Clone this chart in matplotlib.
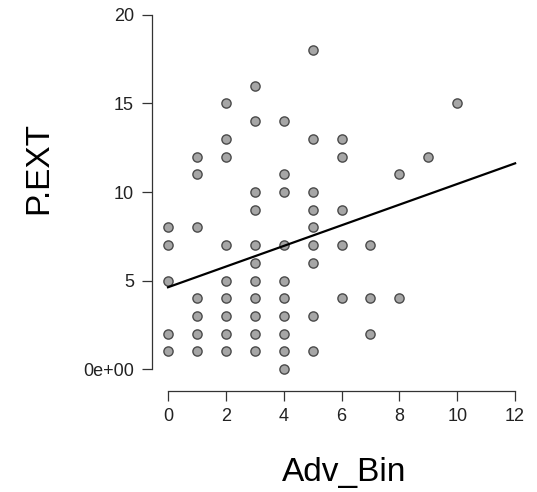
import matplotlib
matplotlib.use("Agg")
import matplotlib.pyplot as plt
import numpy as np

plt.rcParams['font.family'] = ['Liberation Sans', 'DejaVu Sans']

# P.EXT values observed at each Adv_Bin value
adv_bin = [0] * 5 + [1] * 7 + [2] * 9 + [3] * 11 + [4] * 10 + [5] * 9 + [6] * 5 + [7] * 3 + [8] * 2 + [9] + [10]
p_ext = [8, 7, 5, 2, 1,
         12, 11, 8, 4, 3, 2, 1,
         15, 13, 12, 7, 5, 4, 3, 2, 1,
         16, 14, 10, 9, 7, 6, 5, 4, 3, 2, 1,
         14, 11, 10, 7, 5, 4, 3, 2, 1, 0,
         18, 13, 10, 9, 8, 7, 6, 3, 1,
         13, 12, 9, 7, 4,
         7, 4, 2,
         11, 4,
         12,
         15]

# fitted line
line_x = [0, 12]
line_y = [4.62, 11.62]

x_ticks = [0, 2, 4, 6, 8, 10, 12]
y_ticks = [0, 5, 10, 15, 20]
y_tick_labels = ['0e+00', '5', '10', '15', '20']

fig = plt.figure(figsize=(5.37, 4.92), dpi=100)
ax = fig.add_axes([152/537, 1 - 391/492, 377/537, 390.2/492])

ax.scatter(adv_bin, p_ext, s=44, c='#a6a6a6', edgecolors='#4a4a4a', linewidths=1.0, zorder=3)
ax.plot(line_x, line_y, color='black', lw=1.6, zorder=4)

ax.set_xlim(-0.553, 12.48)
ax.set_ylim(-1.24, 20.8)

for s in ['top', 'right']:
    ax.spines[s].set_visible(False)
ax.spines['left'].set_bounds(0, 20)
ax.spines['bottom'].set_bounds(0, 12)
for s in ['left', 'bottom']:
    ax.spines[s].set_color('#333333')
    ax.spines[s].set_linewidth(0.9)

ax.set_xticks(x_ticks)
ax.set_yticks(y_ticks)
ax.set_yticklabels(y_tick_labels)
ax.tick_params(direction='out', length=7, width=0.9, color='#333333',
               labelsize=13, labelcolor='#222222')
ax.tick_params(axis='y', pad=6)
ax.tick_params(axis='x', pad=5)

fig.text(344/537, 1 - 472/492, 'Adv_Bin', fontsize=24, ha='center', va='center')
fig.text(38.7/537, 1 - 167.5/492, 'P.EXT', fontsize=24, ha='center', va='center', rotation=90)

fig.savefig('out.png', dpi=100)
